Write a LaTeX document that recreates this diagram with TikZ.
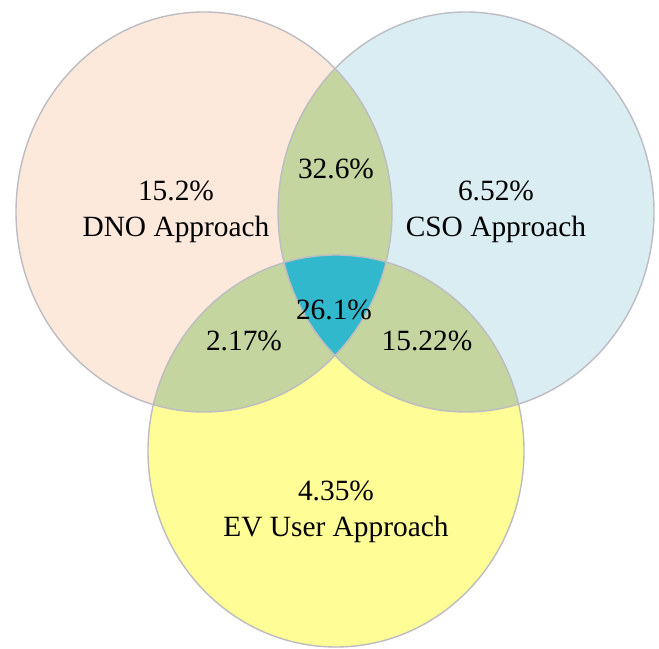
\documentclass[tikz,border=0pt]{standalone}
\usepackage{fontspec}
\setmainfont{Liberation Serif}
\definecolor{dnofill}{RGB}{252,233,220}
\definecolor{csofill}{RGB}{218,237,243}
\definecolor{evfill}{RGB}{255,253,150}
\definecolor{pairfill}{RGB}{196,213,160}
\definecolor{allfill}{RGB}{50,184,204}
\definecolor{rimgray}{RGB}{188,188,194}
\begin{document}
\begin{tikzpicture}[line join=bevel,
  rim/.style={draw=rimgray,line width=1.4pt},
  pct/.style={font=\fontsize{29.5}{36}\selectfont,align=center,inner sep=0pt}]
\useasboundingbox (0bp,0bp) rectangle (659bp,649bp);
%%
\coordinate (dnoc) at (204bp,437bp);
\coordinate (csoc) at (466bp,437bp);
\coordinate (evc) at (336bp,198bp);
%% sets
\fill [dnofill] (dnoc) ellipse [x radius=188bp,y radius=200bp];
\fill [csofill] (csoc) ellipse [x radius=188bp,y radius=200bp];
\fill [evfill] (evc) ellipse [x radius=188bp,y radius=196bp];
%% pairs
\begin{scope}
  \clip (dnoc) ellipse [x radius=188bp,y radius=200bp];
  \fill [pairfill] (csoc) ellipse [x radius=188bp,y radius=200bp];
  \fill [pairfill] (evc) ellipse [x radius=188bp,y radius=196bp];
\end{scope}
\begin{scope}
  \clip (csoc) ellipse [x radius=188bp,y radius=200bp];
  \fill [pairfill] (evc) ellipse [x radius=188bp,y radius=196bp];
\end{scope}
%% all three
\begin{scope}
  \clip (dnoc) ellipse [x radius=188bp,y radius=200bp];
  \clip (csoc) ellipse [x radius=188bp,y radius=200bp];
  \fill [allfill] (evc) ellipse [x radius=188bp,y radius=196bp];
\end{scope}
%% outlines
\draw [rim] (dnoc) ellipse [x radius=188bp,y radius=200bp];
\draw [rim] (csoc) ellipse [x radius=188bp,y radius=200bp];
\draw [rim] (evc) ellipse [x radius=188bp,y radius=196bp];
%% labels
\node (dno) at (176bp,437bp) [pct] {15.2\%\\DNO Approach};
\node (cso) at (496bp,437bp) [pct] {6.52\%\\CSO Approach};
\node (ev) at (336bp,137bp) [pct] {4.35\%\\EV User Approach};
\node (dnocso) at (336bp,480bp) [pct] {32.6\%};
\node (dnoev) at (244bp,308bp) [pct] {2.17\%};
\node (csoev) at (427bp,308bp) [pct] {15.22\%};
\node (all) at (334bp,339bp) [pct] {26.1\%};
%
\end{tikzpicture}
\end{document}
